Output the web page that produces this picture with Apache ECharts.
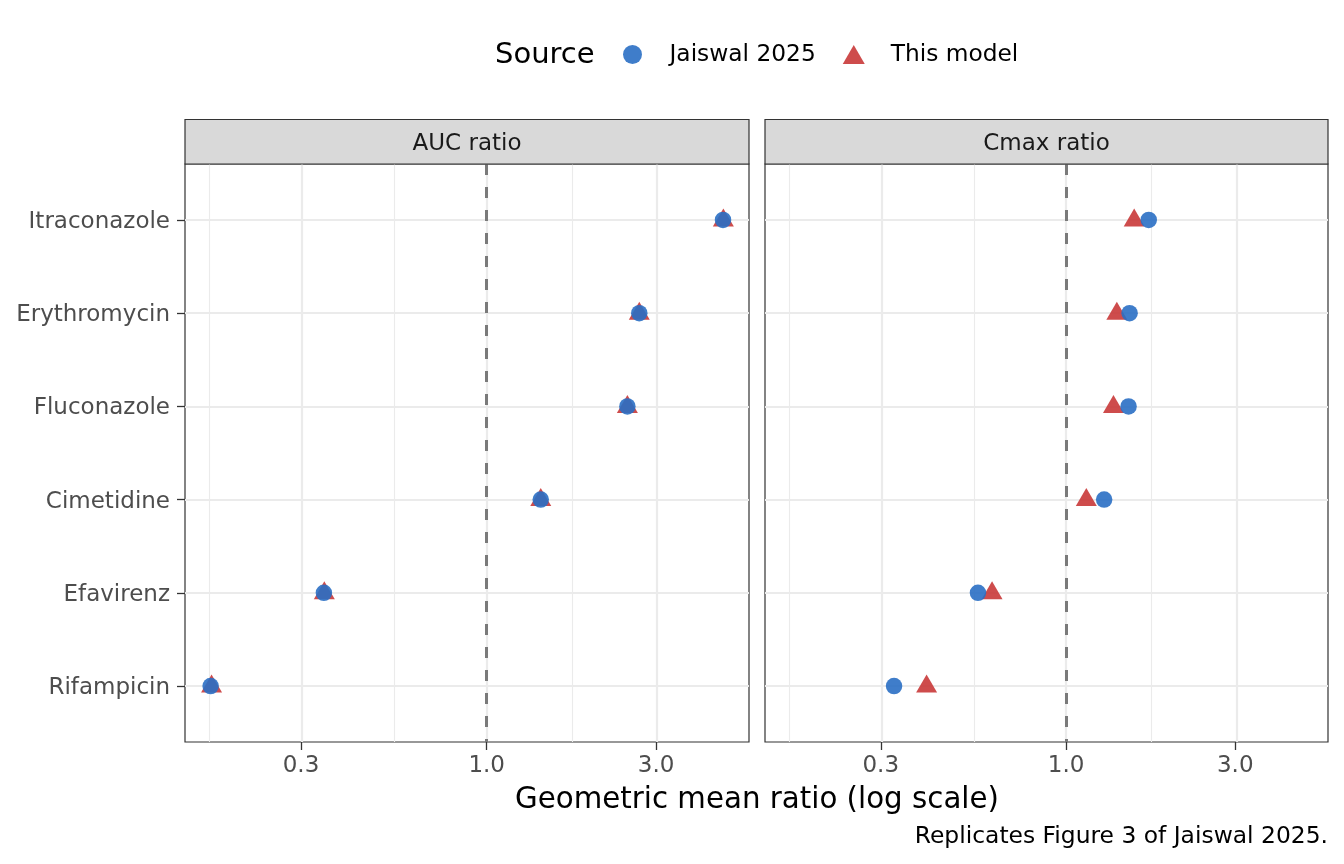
<!DOCTYPE html>
<html>
<head>
<meta charset="utf-8">
<script src="https://cdn.jsdelivr.net/npm/echarts@6/dist/echarts.min.js"></script>
<style>
  html, body { margin: 0; padding: 0; background: #fff; }
  #chart { width: 1344px; height: 864px; }
</style>
</head>
<body>
<div id="chart"></div>
<script>
// drugs, top to bottom
const drugs = ['Itraconazole', 'Erythromycin', 'Fluconazole', 'Cimetidine', 'Efavirenz', 'Rifampicin'];

// geometric mean ratios
const aucJaiswal = [4.63, 2.69, 2.49, 1.42, 0.348, 0.167];
const aucModel   = [4.64, 2.69, 2.49, 1.42, 0.349, 0.168];
const cmaxJaiswal = [1.71, 1.51, 1.50, 1.28, 0.564, 0.327];
const cmaxModel   = [1.556, 1.39, 1.36, 1.14, 0.618, 0.404];

const tickValues = [0.3, 1.0, 3.0];
const minorValues = [0.1643, 0.5477, 1.7321];
const panelTitles = ['AUC ratio', 'Cmax ratio'];

const BLUE = '#2a6fc4';
const RED = '#c93838';
const FONT = 'DejaVu Sans';

const lg = v => Math.log10(v);

// shared x range, ggplot style 5% expansion in log space
const allVals = aucJaiswal.concat(aucModel, cmaxJaiswal, cmaxModel).map(lg);
const lo = Math.min(...allVals), hi = Math.max(...allVals);
const pad = (hi - lo) * 0.05;
const xMin = lo - pad, xMax = hi + pad;

const grids = [
  { left: 185, top: 164, width: 564, height: 578 },
  { left: 765, top: 164, width: 563, height: 578 }
];

function toPoints(vals) {
  return vals.map((v, i) => [lg(v), i]);
}

function gridLines() {
  const data = [];
  drugs.forEach((d, i) => data.push({ yAxis: i, lineStyle: { color: '#ebebeb', width: 2.2, type: 'solid' } }));
  minorValues.forEach(v => data.push({ xAxis: lg(v), lineStyle: { color: '#ebebeb', width: 1.1, type: 'solid' } }));
  tickValues.forEach(v => data.push({ xAxis: lg(v), lineStyle: { color: '#ebebeb', width: 2.2, type: 'solid' } }));
  data.push({ xAxis: 0, lineStyle: { color: '#7a7a7a', width: 3, type: [11, 12] } });
  return {
    silent: true,
    symbol: 'none',
    z: 1,
    label: { show: false },
    emphasis: { disabled: true },
    animation: false,
    data: data
  };
}

const xAxes = grids.map((g, k) => ({
  type: 'value',
  gridIndex: k,
  min: xMin,
  max: xMax,
  axisLine: { show: false, onZero: false },
  splitLine: { show: false },
  axisTick: {
    show: true,
    customValues: tickValues.map(lg),
    length: 8,
    lineStyle: { color: '#333333', width: 1.3 }
  },
  axisLabel: {
    customValues: tickValues.map(lg),
    formatter: v => Math.pow(10, v).toFixed(1),
    fontSize: 23,
    color: '#4d4d4d',
    margin: 13,
    fontFamily: FONT
  }
}));

const yAxes = grids.map((g, k) => ({
  type: 'value',
  gridIndex: k,
  inverse: true,
  min: -0.6,
  max: drugs.length - 1 + 0.6,
  axisLine: { show: false, onZero: false },
  splitLine: { show: false },
  axisTick: {
    show: k === 0,
    customValues: drugs.map((d, i) => i),
    length: 8,
    lineStyle: { color: '#333333', width: 1.3 }
  },
  axisLabel: {
    show: k === 0,
    customValues: drugs.map((d, i) => i),
    formatter: v => '{d|' + drugs[Math.round(v)] + '}',
    margin: 15,
    rich: {
      d: { fontSize: 23, color: '#4d4d4d', fontFamily: FONT, padding: [4, 0, 0, 0] }
    }
  }
}));

function modelSeries(k, vals) {
  return {
    name: 'This model',
    type: 'scatter',
    xAxisIndex: k,
    yAxisIndex: k,
    symbol: 'triangle',
    symbolSize: [21, 18],
    symbolOffset: [0, -2.5],
    itemStyle: { color: RED, opacity: 0.9 },
    z: 2,
    animation: false,
    data: toPoints(vals),
    markLine: gridLines()
  };
}

function jaiswalSeries(k, vals) {
  return {
    name: 'Jaiswal 2025',
    type: 'scatter',
    xAxisIndex: k,
    yAxisIndex: k,
    symbol: 'circle',
    symbolSize: 16.5,
    itemStyle: { color: BLUE, opacity: 0.9 },
    z: 3,
    animation: false,
    data: toPoints(vals)
  };
}

const graphics = [];
grids.forEach((g, k) => {
  graphics.push({
    type: 'rect',
    shape: { x: g.left, y: 119.5, width: g.width, height: 44.5 },
    style: { fill: '#d9d9d9', stroke: '#333333', lineWidth: 1.2 },
    z: 10
  });
  graphics.push({
    type: 'text',
    x: g.left + g.width / 2,
    y: 144,
    style: { text: panelTitles[k], fontSize: 23, fontFamily: FONT, fill: '#1a1a1a', align: 'center', verticalAlign: 'middle' },
    z: 11
  });
});
graphics.push({
  type: 'text', x: 495, y: 55,
  style: { text: 'Source', fontSize: 29, fontFamily: FONT, fill: '#000', align: 'left', verticalAlign: 'middle' }
});
graphics.push({
  type: 'text', x: 757, y: 800,
  style: { text: 'Geometric mean ratio (log scale)', fontSize: 29.3, fontFamily: FONT, fill: '#000', align: 'center', verticalAlign: 'middle' }
});
graphics.push({
  type: 'text', x: 1328, y: 837,
  style: { text: 'Replicates Figure 3 of Jaiswal 2025.', fontSize: 23.4, fontFamily: FONT, fill: '#000', align: 'right', verticalAlign: 'middle' }
});

const chart = echarts.init(document.getElementById('chart'), null, { renderer: 'canvas' });
chart.setOption({
  backgroundColor: '#ffffff',
  animation: false,
  textStyle: { fontFamily: FONT },
  grid: grids.map(g => Object.assign({
    show: true,
    backgroundColor: '#ffffff',
    borderColor: '#333333',
    borderWidth: 1.2,
    containLabel: false
  }, g)),
  xAxis: xAxes,
  yAxis: yAxes,
  legend: {
    data: [
      { name: 'Jaiswal 2025', icon: 'circle' },
      { name: 'This model', icon: 'path://M0,19L11,0L22,19Z' }
    ],
    left: 618,
    top: 38,
    padding: 5,
    itemWidth: 22,
    itemHeight: 19,
    itemGap: 27,
    selectedMode: false,
    textStyle: { fontSize: 23.3, color: '#000', fontFamily: FONT, padding: [0, 0, 0, 21] }
  },
  series: [
    modelSeries(0, aucModel),
    jaiswalSeries(0, aucJaiswal),
    modelSeries(1, cmaxModel),
    jaiswalSeries(1, cmaxJaiswal)
  ],
  graphic: graphics
});
</script>
</body>
</html>
